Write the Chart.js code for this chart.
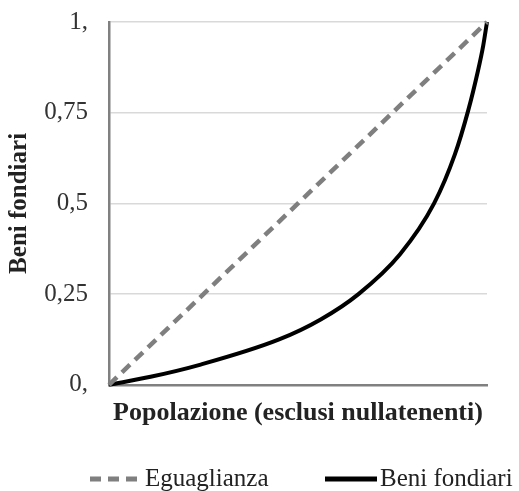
<!DOCTYPE html>
<html>
<head>
<meta charset="utf-8">
<script src="https://cdn.jsdelivr.net/npm/chart.js@4"></script>
<style>
  html, body { margin: 0; padding: 0; background: #fff; }
  #wrap { width: 519px; height: 491px; position: relative; }
</style>
</head>
<body>
<div id="wrap"><canvas id="lorenzChart"></canvas></div>
<script>
// values
const popolazione = [0, 0.11, 0.24, 0.45, 0.56, 0.66, 0.77, 0.86, 0.915, 0.95, 0.976, 0.99, 1];
const beniFondiari = [0, 0.022, 0.055, 0.125, 0.18, 0.25, 0.36, 0.5, 0.635, 0.755, 0.865, 0.935, 1];
const eguaglianzaX = [0, 1];
const eguaglianzaY = [0, 1];
const yTickLabels = ['0,', '0,25', '0,5', '0,75', '1,'];

const serif = "'Liberation Serif', 'DejaVu Serif', serif";

// legend drawn by hand so the line samples look like the reference
const lineLegend = {
    id: 'lineLegend',
    afterDraw(chart) {
        const ctx = chart.ctx;
        const y = 479;
        const slots = [{ x0: 90, x1: 140, tx: 145 }, { x0: 325, x1: 377, tx: 380 }];
        chart.data.datasets.forEach((ds, i) => {
            const s = slots[i];
            ctx.save();
            ctx.strokeStyle = ds.borderColor;
            ctx.lineWidth = 5;
            ctx.setLineDash(ds.borderDash || []);
            ctx.beginPath();
            ctx.moveTo(s.x0, y);
            ctx.lineTo(s.x1, y);
            ctx.stroke();
            ctx.setLineDash([]);
            ctx.fillStyle = '#222';
            ctx.font = '25px ' + serif;
            ctx.textBaseline = 'middle';
            ctx.fillText(ds.label, s.tx, y);
            ctx.restore();
        });
    }
};

document.addEventListener('DOMContentLoaded', function() {
    const ctx = document.getElementById('lorenzChart').getContext('2d');
    new Chart(ctx, {
        type: 'line',
        data: {
            datasets: [{
                label: 'Eguaglianza',
                data: eguaglianzaX.map((x, i) => ({ x: x, y: eguaglianzaY[i] })),
                borderColor: '#7f7f7f',
                borderWidth: 4.5,
                borderDash: [11, 7],
                pointRadius: 0,
                clip: false
            }, {
                label: 'Beni fondiari',
                data: popolazione.map((x, i) => ({ x: x, y: beniFondiari[i] })),
                borderColor: '#000',
                borderWidth: 4,
                cubicInterpolationMode: 'monotone',
                pointRadius: 0,
                clip: false
            }]
        },
        options: {
            responsive: true,
            maintainAspectRatio: false,
            animation: false,
            layout: { padding: { left: 0, right: 32, top: 22, bottom: 58 } },
            plugins: { legend: { display: false }, tooltip: { enabled: false } },
            scales: {
                x: {
                    type: 'linear',
                    min: 0,
                    max: 1,
                    ticks: { display: false },
                    grid: { display: false, drawTicks: false },
                    border: { display: true, color: '#808080', width: 2.5 },
                    title: {
                        display: true,
                        text: 'Popolazione (esclusi nullatenenti)',
                        color: '#222',
                        font: { family: serif, size: 26, weight: 'bold' },
                        padding: { top: 13, bottom: 4 }
                    }
                },
                y: {
                    min: 0,
                    max: 1,
                    afterFit: function(scale) {
                        scale.width = 109;
                        scale.paddingTop = 0;
                        scale.paddingBottom = 0;
                    },
                    ticks: {
                        stepSize: 0.25,
                        padding: 21,
                        color: '#333',
                        font: { family: serif, size: 25 },
                        callback: function(value) { return yTickLabels[Math.round(value / 0.25)]; }
                    },
                    grid: { color: '#d9d9d9', lineWidth: 1.5, drawTicks: false },
                    border: { display: true, color: '#808080', width: 2.5 },
                    title: {
                        display: true,
                        text: 'Beni fondiari',
                        color: '#222',
                        font: { family: serif, size: 25, weight: 'bold' },
                        padding: { top: 5 }
                    }
                }
            }
        },
        plugins: [lineLegend]
    });
});
</script>
</body>
</html>
